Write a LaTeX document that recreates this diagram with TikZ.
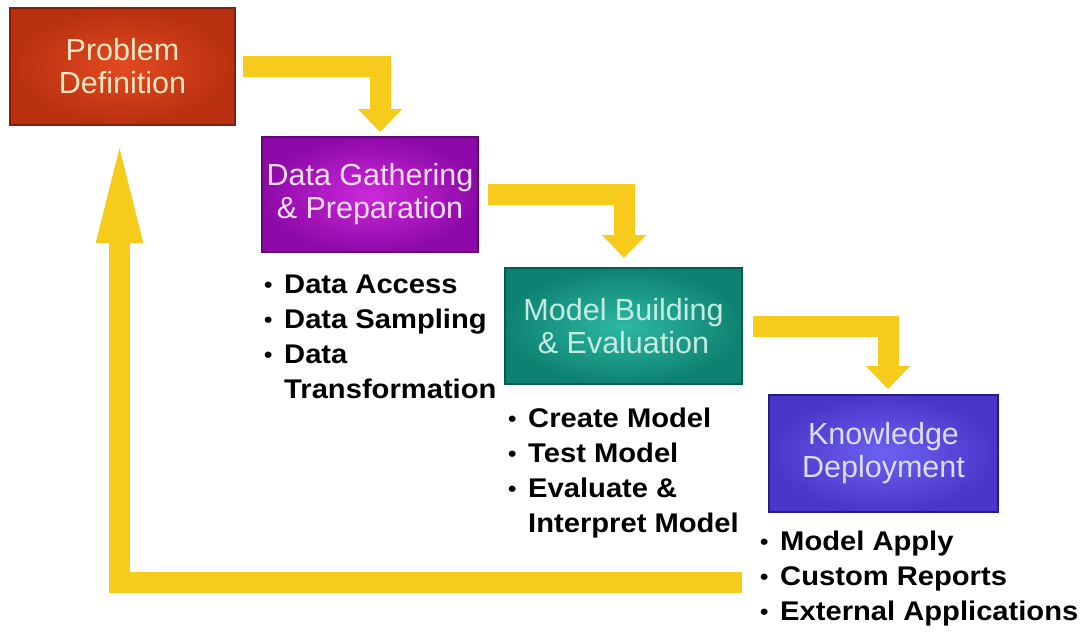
\documentclass[tikz,border=0pt]{standalone}
\usepackage{fontspec}
\setmainfont{Liberation Sans}
\newfontfamily\listfont[FakeStretch=1.08]{Liberation Sans}
\usetikzlibrary{arrows.meta}
\definecolor{flowyellow}{HTML}{F6CB1C}
\newcommand{\itm}{\makebox[20pt][l]{\raisebox{1pt}{\fontsize{22}{22}\selectfont\textbullet}}}

\begin{document}
\begin{tikzpicture}[x=1pt, y=-1pt,
  stage/.style = {draw, line width=2pt, inner sep=0pt, align=center, font=\fontsize{30.5}{33}\selectfont},
  list/.style = {anchor=north west, inner sep=0pt, align=left, font=\listfont\bfseries\fontsize{27}{35}\selectfont},
  flow/.style = {draw=flowyellow, line width=21pt, line join=miter, -{Triangle[width=43pt, length=23pt]}},
  back/.style = {flow, -{Triangle[width=40pt, length=111pt]}}]
\fill[white] (0,0) rectangle (1086,633);
\useasboundingbox (0,0) rectangle (1086,633);
% the four stages
\node[stage, minimum width=225pt, minimum height=117pt, draw={rgb,255:red,128;green,32;blue,14},
  inner color={rgb,255:red,226;green,74;blue,32}, outer color={rgb,255:red,184;green,48;blue,16},
  text={rgb,255:red,244;green,232;blue,196}] (pd) at (122.5,66.5) {Problem\\Definition};
\node[stage, minimum width=216pt, minimum height=115pt, draw={rgb,255:red,94;green,8;blue,120},
  inner color={rgb,255:red,204;green,40;blue,218}, outer color={rgb,255:red,142;green,10;blue,168},
  text={rgb,255:red,244;green,222;blue,244}] (dg) at (370,194.5) {Data Gathering\\\& Preparation};
\node[stage, minimum width=237pt, minimum height=116pt, draw={rgb,255:red,10;green,90;blue,78},
  inner color={rgb,255:red,46;green,184;blue,164}, outer color={rgb,255:red,14;green,130;blue,114},
  text={rgb,255:red,196;green,236;blue,226}] (mb) at (623.5,326) {Model Building\\\& Evaluation};
\node[stage, minimum width=229pt, minimum height=117pt, draw={rgb,255:red,44;green,26;blue,140},
  inner color={rgb,255:red,108;green,98;blue,242}, outer color={rgb,255:red,74;green,54;blue,200},
  text={rgb,255:red,220;green,220;blue,244}] (kd) at (883.5,453.5) {Knowledge\\Deployment};
% what each stage does
\node[list] (dgl) at (264,274.5) {\itm Data Access\\\itm Data Sampling\\\itm Data\\\hspace*{20pt}Transformation};
\node[list] (mbl) at (508,407.5) {\itm Create Model\\\itm Test Model\\\itm Evaluate \&\\\hspace*{20pt}Interpret Model};
\node[list] (kdl) at (760,530.5) {\itm Model Apply\\\itm Custom Reports\\\itm External Applications};
% arrows
\coordinate (ret) at (742,582.5);
\draw[flow] ([xshift=7pt]pd.east) -| ([xshift=10pt, yshift=4pt]dg.north);
\draw[flow] ([xshift=9pt]dg.east) -| ([xshift=0.5pt, yshift=9pt]mb.north);
\draw[flow] ([xshift=10pt]mb.east) -| ([xshift=4.5pt, yshift=5pt]kd.north);
\draw[back] (ret) -| ([xshift=-3pt, yshift=-6pt]pd.south);
\end{tikzpicture}
\end{document}
